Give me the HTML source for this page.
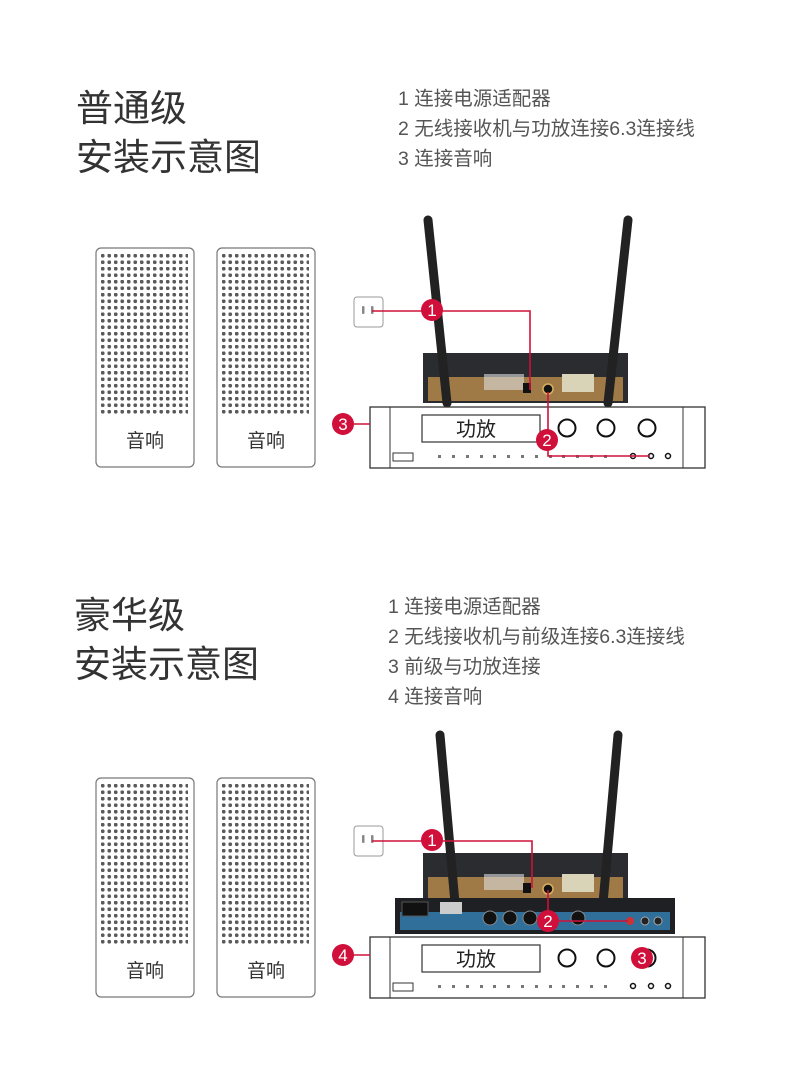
<!DOCTYPE html>
<html><head><meta charset="utf-8"><style>
html,body{margin:0;padding:0;background:#fff}
svg{display:block}
text{font-family:"Liberation Sans","Noto Sans CJK SC",sans-serif}
</style></head><body>
<svg width="800" height="1068" viewBox="0 0 800 1068" xmlns="http://www.w3.org/2000/svg">
<defs>
<pattern id="dots" x="101" y="254" width="6.5" height="6.5" patternUnits="userSpaceOnUse">
<circle cx="1.7" cy="1.7" r="1.9" fill="#5a5a5a"/>
</pattern>
<pattern id="dots2" x="222" y="254" width="6.5" height="6.5" patternUnits="userSpaceOnUse">
<circle cx="1.7" cy="1.7" r="1.9" fill="#5a5a5a"/>
</pattern>
<g id="spk">
<rect x="96" y="248" width="98" height="219" rx="5" fill="#fff" stroke="#777" stroke-width="1.2"/>
<rect x="100" y="252" width="88" height="164" fill="url(#dots)"/>
<text x="145" y="447" font-size="19" text-anchor="middle" fill="#333">音响</text>
<rect x="217" y="248" width="98" height="219" rx="5" fill="#fff" stroke="#777" stroke-width="1.2"/>
<rect x="221" y="252" width="88" height="164" fill="url(#dots2)"/>
<text x="266" y="447" font-size="19" text-anchor="middle" fill="#333">音响</text>
</g>
<g id="amp">
<rect x="370" y="407" width="335" height="61" fill="#fff" stroke="#333" stroke-width="1.3"/>
<line x1="390" y1="407" x2="390" y2="468" stroke="#333"/>
<line x1="683" y1="407" x2="683" y2="468" stroke="#333"/>
<rect x="422" y="415" width="118" height="27" fill="#fff" stroke="#333" stroke-width="1.2"/>
<text x="476" y="436" font-size="20" text-anchor="middle" fill="#222">功放</text>
<circle cx="567" cy="428" r="8.5" fill="none" stroke="#111" stroke-width="2"/>
<circle cx="606" cy="428" r="8.5" fill="none" stroke="#111" stroke-width="2"/>
<circle cx="647" cy="428" r="8.5" fill="none" stroke="#111" stroke-width="2"/>
<rect x="393" y="453" width="20" height="8" fill="none" stroke="#333"/>
<g fill="#777">
<rect x="438" y="455" width="3" height="3"/><rect x="452" y="455" width="3" height="3"/><rect x="466" y="455" width="3" height="3"/><rect x="480" y="455" width="3" height="3"/><rect x="493" y="455" width="3" height="3"/><rect x="507" y="455" width="3" height="3"/><rect x="521" y="455" width="3" height="3"/><rect x="535" y="455" width="3" height="3"/><rect x="549" y="455" width="3" height="3"/><rect x="562" y="455" width="3" height="3"/><rect x="576" y="455" width="3" height="3"/><rect x="590" y="455" width="3" height="3"/><rect x="604" y="455" width="3" height="3"/>
</g>
<circle cx="633" cy="456" r="2.5" fill="none" stroke="#111" stroke-width="1.5"/>
<circle cx="651" cy="456" r="2.5" fill="none" stroke="#111" stroke-width="1.5"/>
<circle cx="668" cy="456" r="2.5" fill="none" stroke="#111" stroke-width="1.5"/>
</g>
<g id="rcvbody">
<rect x="423" y="353" width="205" height="50" fill="#2a2c30"/>
<rect x="428" y="377" width="195" height="24" fill="#a07a46"/>
<rect x="484" y="374" width="40" height="16" fill="#ddd" opacity="0.6"/>
<rect x="523" y="383" width="8" height="10" fill="#111"/>
<circle cx="548" cy="389" r="5" fill="#111" stroke="#d8b060" stroke-width="1.5"/>
<rect x="562" y="374" width="32" height="18" fill="#d9d4b8"/>
</g>
<g id="sock">
<rect x="354" y="297" width="29" height="30" rx="3" fill="#fff" stroke="#999"/>
<rect x="362" y="306" width="2.5" height="8" rx="1" fill="#888"/>
<rect x="371" y="306" width="2.5" height="8" rx="1" fill="#888"/>
</g>
</defs>

<!-- Section 1 -->
<text x="76" y="121" font-size="37" fill="#333">普通级</text>
<text x="76" y="170" font-size="37" fill="#333">安装示意图</text>
<text x="398" y="105" font-size="19.5" fill="#555">1  连接电源适配器</text>
<text x="398" y="135" font-size="19.5" fill="#555">2 无线接收机与功放连接6.3连接线</text>
<text x="398" y="165" font-size="19.5" fill="#555">3 连接音响</text>
<use href="#spk"/>
<use href="#rcvbody"/>
<line x1="428" y1="220" x2="447" y2="403" stroke="#222" stroke-width="9" stroke-linecap="round"/>
<line x1="628" y1="220" x2="608" y2="403" stroke="#222" stroke-width="9" stroke-linecap="round"/>
<use href="#sock"/>
<use href="#amp"/>
<g stroke="#d0103a" stroke-width="1.6" fill="none">
<polyline points="372,311 530,311 530,390"/>
<polyline points="548,392 548,456 650,456"/>
<line x1="352" y1="424" x2="370" y2="424"/>
</g>
<g fill="#d0103a">
<circle cx="432" cy="310" r="11"/><circle cx="547" cy="440" r="11"/><circle cx="343" cy="424" r="11"/>
</g>
<g fill="#fff" font-size="17" text-anchor="middle">
<text x="432" y="316">1</text><text x="547" y="446">2</text><text x="343" y="430">3</text>
</g>

<!-- Section 2 -->
<text x="74" y="628" font-size="37" fill="#333">豪华级</text>
<text x="74" y="677" font-size="37" fill="#333">安装示意图</text>
<text x="388" y="613" font-size="19.5" fill="#555">1  连接电源适配器</text>
<text x="388" y="643" font-size="19.5" fill="#555">2 无线接收机与前级连接6.3连接线</text>
<text x="388" y="673" font-size="19.5" fill="#555">3 前级与功放连接</text>
<text x="388" y="703" font-size="19.5" fill="#555">4 连接音响</text>
<use href="#spk" transform="translate(0,530)"/>
<use href="#rcvbody" transform="translate(0,500)"/>
<line x1="440" y1="735" x2="455" y2="903" stroke="#222" stroke-width="9" stroke-linecap="round"/>
<line x1="618" y1="735" x2="603" y2="903" stroke="#222" stroke-width="9" stroke-linecap="round"/>
<use href="#sock" transform="translate(0,529)"/>
<!-- preamp -->
<rect x="395" y="898" width="280" height="36" fill="#1e2024"/>
<rect x="400" y="912" width="270" height="18" fill="#2f6f9a"/>
<rect x="402" y="902" width="26" height="14" fill="#111" stroke="#555"/>
<rect x="440" y="902" width="22" height="12" fill="#ccc"/>
<circle cx="490" cy="918" r="7" fill="#111" stroke="#888"/>
<circle cx="510" cy="918" r="7" fill="#111" stroke="#888"/>
<circle cx="530" cy="918" r="7" fill="#111" stroke="#888"/>
<circle cx="578" cy="918" r="7" fill="#111" stroke="#888"/>
<circle cx="630" cy="921" r="4" fill="#c33"/>
<circle cx="645" cy="921" r="4" fill="#222" stroke="#aaa"/>
<circle cx="658" cy="921" r="4" fill="#222" stroke="#aaa"/>
<use href="#amp" transform="translate(0,530)"/>
<g stroke="#d0103a" stroke-width="1.6" fill="none">
<polyline points="372,841 532,841 532,888"/>
<polyline points="548,890 548,921 628,921"/>
<line x1="352" y1="955" x2="370" y2="955"/>
</g>
<g fill="#d0103a">
<circle cx="432" cy="840" r="11"/><circle cx="548" cy="921" r="11"/><circle cx="642" cy="958" r="11"/><circle cx="343" cy="955" r="11"/>
</g>
<g fill="#fff" font-size="17" text-anchor="middle">
<text x="432" y="846">1</text><text x="548" y="927">2</text><text x="642" y="964">3</text><text x="343" y="961">4</text>
</g>
</svg>
</body></html>
